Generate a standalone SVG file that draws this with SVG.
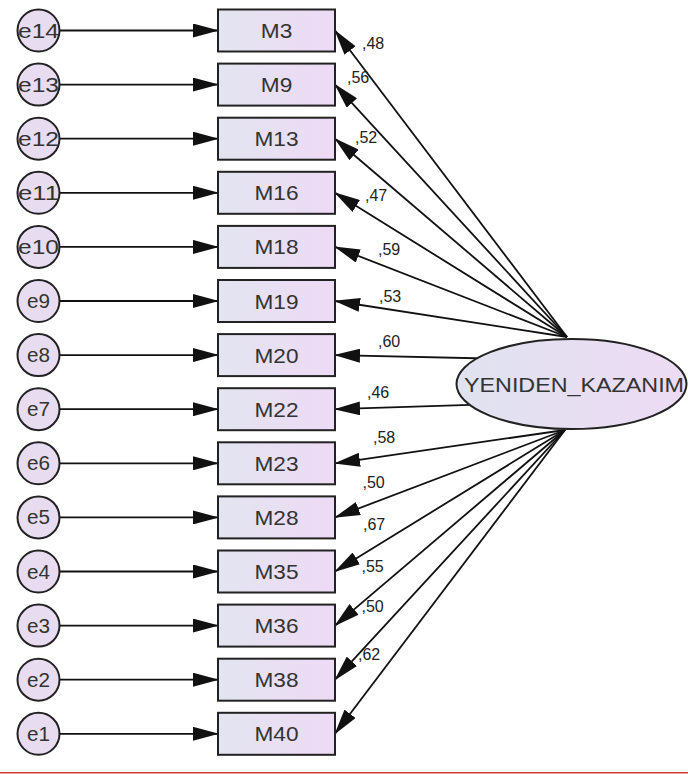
<svg xmlns="http://www.w3.org/2000/svg" width="688" height="774" viewBox="0 0 688 774">
<defs>
<linearGradient id="gBox" x1="0" y1="0" x2="1" y2="0">
<stop offset="0" stop-color="#e2e5f0"/>
<stop offset="1" stop-color="#eedaf5"/>
</linearGradient>
<linearGradient id="gEll" x1="0" y1="0" x2="1" y2="0">
<stop offset="0" stop-color="#e0e3f0"/>
<stop offset="1" stop-color="#eddbf4"/>
</linearGradient>
<marker id="ah" markerUnits="userSpaceOnUse" viewBox="0 0 26 14" markerWidth="26" markerHeight="14" refX="25" refY="7" orient="auto">
<path d="M0,0 L26,7 L0,14 z" fill="#111"/>
</marker>
<style>
.box{fill:url(#gBox);stroke:#222;stroke-width:2}
.err{fill:#e8ddf0;stroke:#222;stroke-width:2}
.lat{fill:url(#gEll);stroke:#222;stroke-width:2}
.lbl{font-family:"Liberation Sans",Arial,sans-serif;font-size:21px;fill:#333;text-anchor:middle}
.elbl{font-family:"Liberation Sans",Arial,sans-serif;font-size:20px;fill:#333;text-anchor:middle}
.coef{font-family:"Liberation Sans",Arial,sans-serif;font-size:16px;fill:#222}
.con{stroke:#111;stroke-width:1.8;fill:none;marker-end:url(#ah)}
</style>
</defs>
<rect x="0" y="0" width="688" height="774" fill="#ffffff"/>
<g id="connectors">
<line class="con" x1="60" y1="30.5" x2="218" y2="30.5"/>
<line class="con" x1="60" y1="84.6" x2="218" y2="84.6"/>
<line class="con" x1="60" y1="138.7" x2="218" y2="138.7"/>
<line class="con" x1="60" y1="192.8" x2="218" y2="192.8"/>
<line class="con" x1="60" y1="246.9" x2="218" y2="246.9"/>
<line class="con" x1="60" y1="301" x2="218" y2="301"/>
<line class="con" x1="60" y1="355.1" x2="218" y2="355.1"/>
<line class="con" x1="60" y1="409.2" x2="218" y2="409.2"/>
<line class="con" x1="60" y1="463.3" x2="218" y2="463.3"/>
<line class="con" x1="60" y1="517.4" x2="218" y2="517.4"/>
<line class="con" x1="60" y1="571.5" x2="218" y2="571.5"/>
<line class="con" x1="60" y1="625.6" x2="218" y2="625.6"/>
<line class="con" x1="60" y1="679.7" x2="218" y2="679.7"/>
<line class="con" x1="60" y1="733.8" x2="218" y2="733.8"/>
<line class="con" x1="567" y1="337" x2="335" y2="30.5"/>
<line class="con" x1="567" y1="337" x2="335" y2="84.6"/>
<line class="con" x1="567" y1="337" x2="335" y2="138.7"/>
<line class="con" x1="567" y1="337" x2="335" y2="192.8"/>
<line class="con" x1="567" y1="337" x2="335" y2="246.9"/>
<line class="con" x1="567" y1="337" x2="335" y2="301"/>
<line class="con" x1="520" y1="359.2" x2="335" y2="355.1"/>
<line class="con" x1="520" y1="403.3" x2="335" y2="409.2"/>
<line class="con" x1="565" y1="430" x2="335" y2="463.3"/>
<line class="con" x1="565" y1="430" x2="335" y2="517.4"/>
<line class="con" x1="565" y1="430" x2="335" y2="571.5"/>
<line class="con" x1="565" y1="430" x2="335" y2="625.6"/>
<line class="con" x1="565" y1="430" x2="335" y2="679.7"/>
<line class="con" x1="565" y1="430" x2="335" y2="733.8"/>
</g>
<g id="latent">
<ellipse class="lat" cx="571.5" cy="384" rx="115" ry="45"/>
<text class="lbl" x="574" y="392" textLength="220" lengthAdjust="spacingAndGlyphs">YENIDEN_KAZANIM</text>
</g>
<g id="coefs">
<text class="coef" x="362" y="49">,48</text>
<text class="coef" x="347" y="83">,56</text>
<text class="coef" x="355" y="143">,52</text>
<text class="coef" x="365" y="200.5">,47</text>
<text class="coef" x="378" y="255">,59</text>
<text class="coef" x="379" y="301.5">,53</text>
<text class="coef" x="378" y="346.5">,60</text>
<text class="coef" x="367" y="398">,46</text>
<text class="coef" x="373" y="443">,58</text>
<text class="coef" x="362.5" y="488">,50</text>
<text class="coef" x="363" y="529.5">,67</text>
<text class="coef" x="361.5" y="571.5">,55</text>
<text class="coef" x="361.5" y="611.5">,50</text>
<text class="coef" x="358" y="660">,62</text>
</g>
<g id="M3"><rect class="box" x="218" y="9.5" width="117" height="42"/><text class="lbl" x="276.5" y="38" textLength="31.5" lengthAdjust="spacingAndGlyphs">M3</text></g>
<g id="M9"><rect class="box" x="218" y="63.6" width="117" height="42"/><text class="lbl" x="276.5" y="92.1" textLength="31.5" lengthAdjust="spacingAndGlyphs">M9</text></g>
<g id="M13"><rect class="box" x="218" y="117.7" width="117" height="42"/><text class="lbl" x="276.5" y="146.2" textLength="44" lengthAdjust="spacingAndGlyphs">M13</text></g>
<g id="M16"><rect class="box" x="218" y="171.8" width="117" height="42"/><text class="lbl" x="276.5" y="200.3" textLength="44" lengthAdjust="spacingAndGlyphs">M16</text></g>
<g id="M18"><rect class="box" x="218" y="225.9" width="117" height="42"/><text class="lbl" x="276.5" y="254.4" textLength="44" lengthAdjust="spacingAndGlyphs">M18</text></g>
<g id="M19"><rect class="box" x="218" y="280" width="117" height="42"/><text class="lbl" x="276.5" y="308.5" textLength="44" lengthAdjust="spacingAndGlyphs">M19</text></g>
<g id="M20"><rect class="box" x="218" y="334.1" width="117" height="42"/><text class="lbl" x="276.5" y="362.6" textLength="44" lengthAdjust="spacingAndGlyphs">M20</text></g>
<g id="M22"><rect class="box" x="218" y="388.2" width="117" height="42"/><text class="lbl" x="276.5" y="416.7" textLength="44" lengthAdjust="spacingAndGlyphs">M22</text></g>
<g id="M23"><rect class="box" x="218" y="442.3" width="117" height="42"/><text class="lbl" x="276.5" y="470.8" textLength="44" lengthAdjust="spacingAndGlyphs">M23</text></g>
<g id="M28"><rect class="box" x="218" y="496.4" width="117" height="42"/><text class="lbl" x="276.5" y="524.9" textLength="44" lengthAdjust="spacingAndGlyphs">M28</text></g>
<g id="M35"><rect class="box" x="218" y="550.5" width="117" height="42"/><text class="lbl" x="276.5" y="579" textLength="44" lengthAdjust="spacingAndGlyphs">M35</text></g>
<g id="M36"><rect class="box" x="218" y="604.6" width="117" height="42"/><text class="lbl" x="276.5" y="633.1" textLength="44" lengthAdjust="spacingAndGlyphs">M36</text></g>
<g id="M38"><rect class="box" x="218" y="658.7" width="117" height="42"/><text class="lbl" x="276.5" y="687.2" textLength="44" lengthAdjust="spacingAndGlyphs">M38</text></g>
<g id="M40"><rect class="box" x="218" y="712.8" width="117" height="42"/><text class="lbl" x="276.5" y="741.3" textLength="44" lengthAdjust="spacingAndGlyphs">M40</text></g>
<g id="e14"><circle class="err" cx="38.5" cy="30.5" r="21"/><text class="elbl" x="38.5" y="37.5" textLength="41" lengthAdjust="spacingAndGlyphs">e14</text></g>
<g id="e13"><circle class="err" cx="38.5" cy="84.6" r="21"/><text class="elbl" x="38.5" y="91.6" textLength="41" lengthAdjust="spacingAndGlyphs">e13</text></g>
<g id="e12"><circle class="err" cx="38.5" cy="138.7" r="21"/><text class="elbl" x="38.5" y="145.7" textLength="41" lengthAdjust="spacingAndGlyphs">e12</text></g>
<g id="e11"><circle class="err" cx="38.5" cy="192.8" r="21"/><text class="elbl" x="38.5" y="199.8" textLength="41" lengthAdjust="spacingAndGlyphs">e11</text></g>
<g id="e10"><circle class="err" cx="38.5" cy="246.9" r="21"/><text class="elbl" x="38.5" y="253.9" textLength="41" lengthAdjust="spacingAndGlyphs">e10</text></g>
<g id="e9"><circle class="err" cx="38.5" cy="301" r="21"/><text class="elbl" x="38.5" y="308" textLength="23" lengthAdjust="spacingAndGlyphs">e9</text></g>
<g id="e8"><circle class="err" cx="38.5" cy="355.1" r="21"/><text class="elbl" x="38.5" y="362.1" textLength="23" lengthAdjust="spacingAndGlyphs">e8</text></g>
<g id="e7"><circle class="err" cx="38.5" cy="409.2" r="21"/><text class="elbl" x="38.5" y="416.2" textLength="23" lengthAdjust="spacingAndGlyphs">e7</text></g>
<g id="e6"><circle class="err" cx="38.5" cy="463.3" r="21"/><text class="elbl" x="38.5" y="470.3" textLength="23" lengthAdjust="spacingAndGlyphs">e6</text></g>
<g id="e5"><circle class="err" cx="38.5" cy="517.4" r="21"/><text class="elbl" x="38.5" y="524.4" textLength="23" lengthAdjust="spacingAndGlyphs">e5</text></g>
<g id="e4"><circle class="err" cx="38.5" cy="571.5" r="21"/><text class="elbl" x="38.5" y="578.5" textLength="23" lengthAdjust="spacingAndGlyphs">e4</text></g>
<g id="e3"><circle class="err" cx="38.5" cy="625.6" r="21"/><text class="elbl" x="38.5" y="632.6" textLength="23" lengthAdjust="spacingAndGlyphs">e3</text></g>
<g id="e2"><circle class="err" cx="38.5" cy="679.7" r="21"/><text class="elbl" x="38.5" y="686.7" textLength="23" lengthAdjust="spacingAndGlyphs">e2</text></g>
<g id="e1"><circle class="err" cx="38.5" cy="733.8" r="21"/><text class="elbl" x="38.5" y="740.8" textLength="23" lengthAdjust="spacingAndGlyphs">e1</text></g>
<line x1="0" y1="772.8" x2="688" y2="772.8" stroke="#d23a3e" stroke-width="1.5"/>
</svg>
